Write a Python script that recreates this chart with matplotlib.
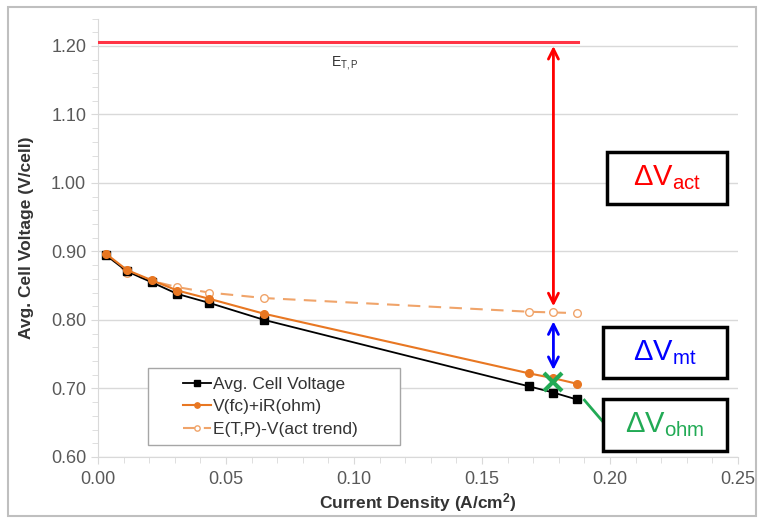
import matplotlib.pyplot as plt
from matplotlib.patches import Rectangle
from matplotlib.ticker import MultipleLocator

plt.rcParams["font.family"] = ["Liberation Sans", "DejaVu Sans"]
plt.rcParams["mathtext.fontset"] = "custom"
plt.rcParams["mathtext.rm"] = "Liberation Sans"
plt.rcParams["mathtext.it"] = "Liberation Sans"
plt.rcParams["mathtext.bf"] = "Liberation Sans:bold"

# current density (A/cm2)
current = [0.003, 0.0113, 0.021, 0.031, 0.0434, 0.065, 0.1685, 0.1779, 0.187]
avg_cell_voltage = [0.895, 0.871, 0.855, 0.838, 0.825, 0.800, 0.703, 0.694, 0.684]
v_fc_ir = [0.897, 0.873, 0.858, 0.843, 0.831, 0.809, 0.722, 0.715, 0.707]
e_minus_vact = [0.897, 0.869, 0.857, 0.848, 0.840, 0.832, 0.812, 0.811, 0.810]

e_tp = 1.206
e_tp_x = [0.0, 0.1875]
x_marker = 0.1779
act_arrow = [1.200, 0.820]
mt_arrow = [0.798, 0.727]
x_cross = 0.709
ohm_line_x = [0.190, 0.1985]
ohm_line_y = [0.683, 0.646]

fig = plt.figure(figsize=(7.58, 5.18), dpi=100)
ax = fig.add_axes([0.1293, 0.1178, 0.8443, 0.8463])

grid_c = "#d9d9d9"
text_c = "#595959"

ax.plot(e_tp_x, [e_tp, e_tp], color="#ff3344", lw=2.2, zorder=3)
ax.text(0.0965, 1.170, r"E$_{\rm T,P}$", fontsize=10, color="#333333", ha="center")

ax.plot(current, avg_cell_voltage, color="black", marker="s", ms=5.5, lw=1.3,
        label="Avg. Cell Voltage", zorder=4)
ax.plot(current, v_fc_ir, color="#e87722", marker="o", ms=5.5, lw=1.5,
        label="V(fc)+iR(ohm)", zorder=4)
ax.plot(current, e_minus_vact, color="#f0a46a", marker="o", ms=5.5, mfc="white",
        lw=1.5, ls=(0, (6, 4)), label="E(T,P)-V(act trend)", zorder=3)

ax.annotate("", xy=(x_marker, act_arrow[0]), xytext=(x_marker, act_arrow[1]),
            arrowprops=dict(arrowstyle="<->", color="red", lw=2,
                            mutation_scale=18, shrinkA=0, shrinkB=0), zorder=5)
ax.annotate("", xy=(x_marker, mt_arrow[0]), xytext=(x_marker, mt_arrow[1]),
            arrowprops=dict(arrowstyle="<->", color="blue", lw=2,
                            mutation_scale=18, shrinkA=0, shrinkB=0), zorder=5)
ax.plot([x_marker], [x_cross], marker="x", color="#22aa55", ms=13, mew=3, zorder=6)
ax.plot(ohm_line_x, ohm_line_y, color="#22aa55", lw=2, zorder=5)

# label boxes (axes fraction: x0, y0, w, h)
boxes = [
    ((0.795, 0.578, 0.188, 0.118), r"$\Delta$V$_{\rm act}$", "red"),
    ((0.789, 0.180, 0.194, 0.116), r"$\Delta$V$_{\rm mt}$", "blue"),
    ((0.789, 0.014, 0.194, 0.118), r"$\Delta$V$_{\rm ohm}$", "#22aa55"),
]
for (bx, by, bw, bh), label, col in boxes:
    ax.add_patch(Rectangle((bx, by), bw, bh, transform=ax.transAxes, fill=True,
                           fc="white", ec="black", lw=2.5, clip_on=False, zorder=7))
    ax.text(bx + bw / 2, by + bh / 2, label, transform=ax.transAxes, ha="center",
            va="center", fontsize=21, color=col, zorder=8)

ax.set_xlim(0, 0.25)
ax.set_ylim(0.60, 1.24)
ax.xaxis.set_major_locator(MultipleLocator(0.05))
ax.xaxis.set_minor_locator(MultipleLocator(0.01))
ax.yaxis.set_major_locator(MultipleLocator(0.10))
ax.yaxis.set_minor_locator(MultipleLocator(0.02))
ax.xaxis.set_major_formatter(lambda v, p: f"{v:.2f}")
ax.yaxis.set_major_formatter(lambda v, p: f"{v:.2f}")
ax.grid(axis="y", which="major", color=grid_c, lw=1)
ax.set_axisbelow(True)
for s in ["top", "right"]:
    ax.spines[s].set_visible(False)
for s in ["left", "bottom"]:
    ax.spines[s].set_color(grid_c)
ax.tick_params(which="both", direction="out", color=grid_c, labelcolor=text_c,
               labelsize=13)
ax.tick_params(which="major", length=5)
ax.tick_params(which="minor", length=4)
ax.tick_params(axis="x", pad=5)

ax.set_xlabel("Current Density (A/cm$^{\\mathbf{2}}$)", fontsize=12.5,
              fontweight="bold", color="#333333", labelpad=2)
ax.set_ylabel("Avg. Cell Voltage (V/cell)", fontsize=12.5, fontweight="bold",
              color="#333333", labelpad=12)

# legend frame drawn separately (Excel style padding)
ax.add_patch(Rectangle((0.078, 0.027), 0.394, 0.176, transform=ax.transAxes,
                       fc="white", ec="#a6a6a6", lw=1, zorder=6))
leg = ax.legend(loc="center left", bbox_to_anchor=(0.133, 0.115), fontsize=12.5,
                frameon=False, handlelength=1.6, handletextpad=0.1, borderpad=0,
                labelspacing=0.42, markerscale=0.7, borderaxespad=0)
leg.set_zorder(7)
for t in leg.get_texts():
    t.set_color("#333333")

fig.add_artist(Rectangle((8 / 758, 2 / 518), 748 / 758, 509 / 518,
                         transform=fig.transFigure, fill=False, ec="#bfbfbf", lw=1.5))

fig.savefig("out.png", dpi=100)
